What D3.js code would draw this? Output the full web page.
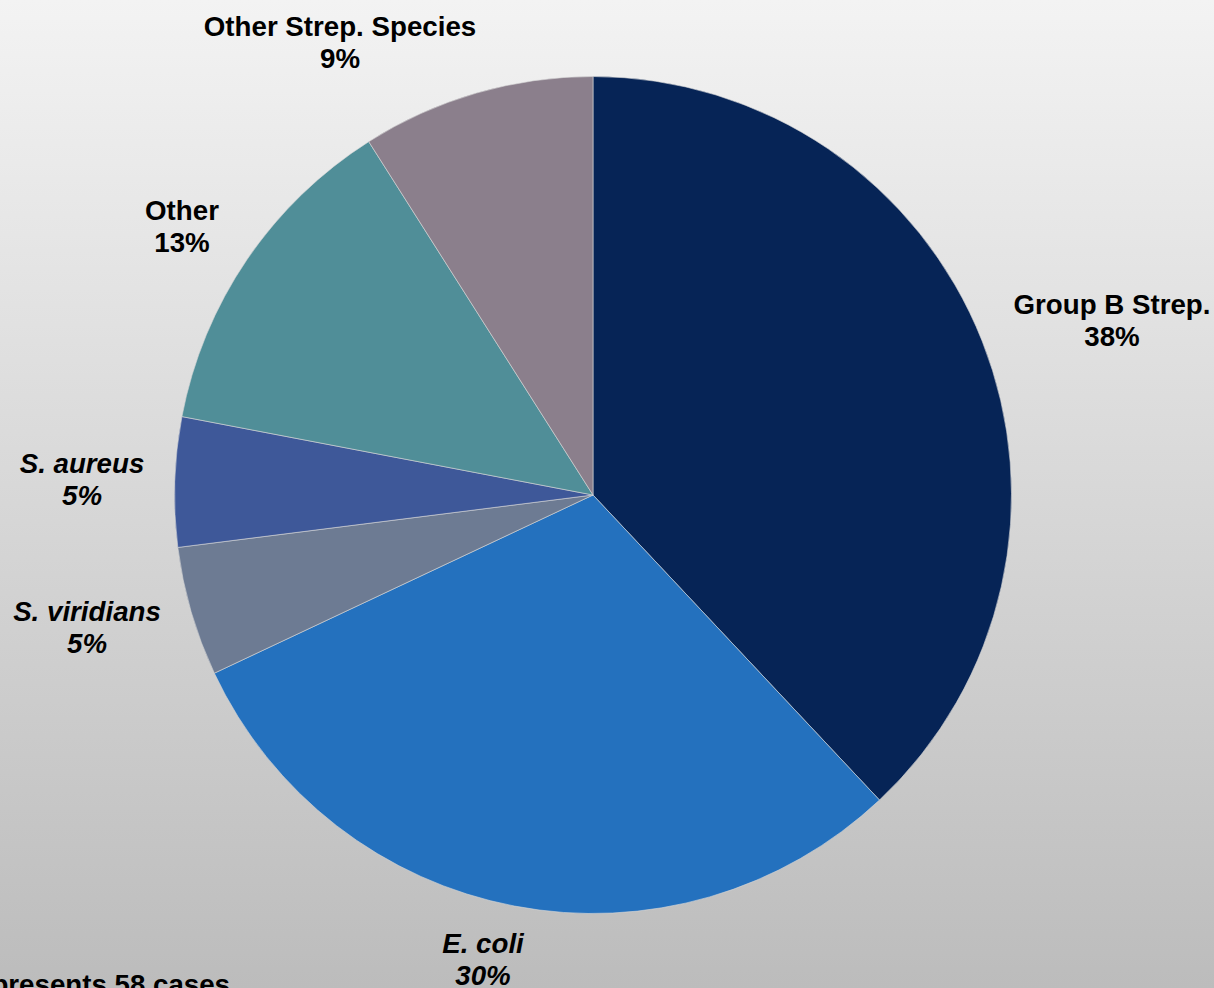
<!DOCTYPE html>
<html>
<head>
<meta charset="utf-8">
<script src="https://cdn.jsdelivr.net/npm/d3@7"></script>
<style>
  html, body { margin: 0; padding: 0; overflow: hidden; }
  svg { display: block; }
  text { font-family: "Liberation Sans", Arial, sans-serif; font-weight: bold; fill: #000; }
</style>
</head>
<body>
<script>
// Organisms isolated, share of cases (%), clockwise from 12 o'clock
const organisms = ["Group B Strep.", "E. coli", "S. viridians", "S. aureus", "Other", "Other Strep. Species"];
const shares = [38, 30, 5, 5, 13, 9];
const italicNames = [false, true, true, true, false, false];
const sliceColors = ["#062456", "#2471be", "#6d7b93", "#3e5899", "#508e98", "#8b7f8c"];
// label anchor points (centre of text block, first baseline)
const labelX = [1112, 483, 87, 82, 182, 340];
const labelY = [314, 953, 621, 473, 220, 36];
const footnote = "*Represents 58 cases";

const W = 1214, H = 988;
const cx = 593, cy = 495, R = 418.5;

const svg = d3.select("body").append("svg")
  .attr("width", W).attr("height", H);

const defs = svg.append("defs");
const grad = defs.append("linearGradient")
  .attr("id", "bg").attr("x1", 0).attr("y1", 0).attr("x2", 0).attr("y2", 1);
grad.append("stop").attr("offset", "0%").attr("stop-color", "#f3f3f3");
grad.append("stop").attr("offset", "100%").attr("stop-color", "#bcbcbc");

svg.append("rect").attr("width", W).attr("height", H).attr("fill", "url(#bg)");

const data = organisms.map((name, i) => ({ name, value: shares[i], italic: italicNames[i], i }));

const pie = d3.pie().value(d => d.value).sort(null);
const arc = d3.arc().innerRadius(0).outerRadius(R);

const g = svg.append("g").attr("transform", `translate(${cx},${cy})`);
g.selectAll("path")
  .data(pie(data))
  .join("path")
  .attr("d", arc)
  .attr("fill", d => sliceColors[d.data.i])
  .attr("stroke", "#d9d9d9")
  .attr("stroke-width", 0.6);

const fs = 27.7, lh = 32;
const labels = svg.append("g");
data.forEach(d => {
  const t = labels.append("text")
    .attr("text-anchor", "middle")
    .attr("font-size", fs)
    .attr("font-style", d.italic ? "italic" : "normal");
  t.append("tspan").attr("x", labelX[d.i]).attr("y", labelY[d.i]).text(d.name);
  t.append("tspan").attr("x", labelX[d.i]).attr("y", labelY[d.i] + lh).text(d.value + "%");
});

svg.append("text")
  .attr("x", 230).attr("y", 994)
  .attr("text-anchor", "end")
  .attr("font-size", fs)
  .text(footnote);
</script>
</body>
</html>
